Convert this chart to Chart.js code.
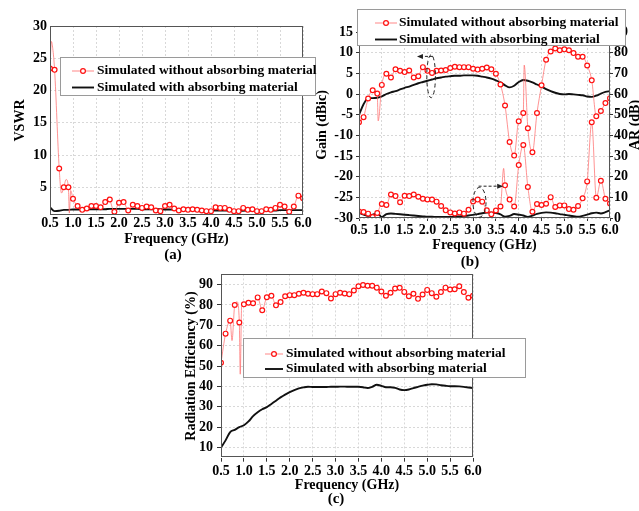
<!DOCTYPE html>
<html><head><meta charset="utf-8">
<script src="https://cdn.jsdelivr.net/npm/chart.js@4"></script>
<style>
html,body{margin:0;padding:0;background:#fff;overflow:hidden;width:639px;height:511px;}
canvas{position:absolute;}
#ca{left:0;top:0;}
#cb{left:310px;top:0;}
#cc{left:176px;top:262px;}
</style></head><body>
<canvas id="ca" width="330" height="270"></canvas>
<canvas id="cb" width="340" height="270"></canvas>
<canvas id="cc" width="360" height="249"></canvas>
<script>
// ---------------- data ----------------
const freq = [0.5,0.6,0.7,0.8,0.9,1.0,1.1,1.2,1.3,1.4,1.5,1.6,1.7,1.8,1.9,2.0,2.1,2.2,2.3,2.4,2.5,2.6,2.7,2.8,2.9,3.0,3.1,3.2,3.3,3.4,3.5,3.6,3.7,3.8,3.9,4.0,4.1,4.2,4.3,4.4,4.5,4.6,4.7,4.8,4.9,5.0,5.1,5.2,5.3,5.4,5.5,5.6,5.7,5.8,5.9,6.0];
const freqTicks = [0.5,1.0,1.5,2.0,2.5,3.0,3.5,4.0,4.5,5.0,5.5,6.0];
const vswrTicks = [5,10,15,20,25,30];
const gainTicks = [-30,-25,-20,-15,-10,-5,0,5,10,15];
const arTicks = [0,10,20,30,40,50,60,70,80,90];
const effTicks = [10,20,30,40,50,60,70,80,90];

const labelWithout = 'Simulated without absorbing material';
const labelWith = 'Simulated with absorbing material';

// (a) VSWR
const vswrWithout = [23.4,23.2,7.9,5.0,5.0,3.2,2.1,1.5,1.7,2.1,2.1,1.9,2.7,3.1,1.2,2.6,2.7,1.4,2.3,2.1,1.8,2.0,1.9,1.4,1.3,2.1,2.3,1.7,1.4,1.6,1.5,1.6,1.5,1.4,1.3,1.3,1.9,1.8,1.8,1.5,1.3,1.3,1.8,1.5,1.6,1.3,1.3,1.6,1.5,1.8,2.3,2.0,1.2,2.0,3.7,3.3];
const vswrWithoutExtraF = [0.53,0.56,0.75,0.85,0.92,0.95,1.78];
const vswrWithoutExtraV = [27.6,26.5,4.1,6.2,1.0,4.5,3.5];
const vswrWith = [1.9,1.3,1.35,1.5,1.5,1.55,1.55,1.55,1.55,1.6,1.6,1.6,1.6,1.65,1.65,1.65,1.65,1.65,1.65,1.65,1.6,1.6,1.6,1.6,1.6,1.55,1.55,1.5,1.5,1.5,1.45,1.45,1.45,1.4,1.4,1.4,1.4,1.4,1.4,1.4,1.35,1.35,1.35,1.4,1.4,1.4,1.4,1.4,1.4,1.4,1.45,1.45,1.45,1.45,1.45,1.45];

// (b) Gain (left axis) and AR (right axis)
const gainWithout = [-6.85,-5.6,-1.1,0.9,0.1,2.2,4.9,4.0,6.0,5.6,5.3,5.7,4.0,4.3,6.5,5.6,5.1,5.6,5.7,5.8,6.3,6.6,6.5,6.5,6.5,6.1,5.9,6.1,6.4,6.0,4.9,2.3,-2.8,-11.6,-14.9,-6.6,-4.6,-8.3,-14.1,-4.6,2.1,8.3,10.3,11.0,10.6,10.8,10.6,9.9,9.0,9.0,6.9,3.3,-5.4,-4.1,-2.2,-1.0];
const gainWithoutExtraF = [0.92,4.12];
const gainWithoutExtraV = [-6.5,7.0];
const gainWith = [-5.0,-2.5,-1.0,-1.0,-0.9,-0.6,0.0,0.4,0.7,1.1,1.5,1.8,2.2,2.6,2.9,3.2,3.5,3.8,4.0,4.2,4.3,4.4,4.4,4.5,4.5,4.5,4.4,4.2,4.0,3.7,3.3,2.8,2.1,1.6,2.0,2.9,3.4,3.2,2.8,2.3,1.8,1.2,0.7,0.3,0.0,-0.1,0.0,-0.1,-0.2,-0.3,-0.6,-0.7,-0.4,0.1,0.5,0.7];
const arWithout = [3.2,2.9,2.1,0.5,2.4,6.8,6.3,11.4,10.6,7.6,10.8,10.6,11.4,10.3,9.3,9.0,8.9,7.9,5.8,3.7,2.7,2.2,2.7,2.1,4.0,8.0,8.9,7.9,3.7,1.8,3.6,5.6,15.8,8.9,5.6,25.6,35.3,15.0,3.0,6.8,6.3,6.9,10.1,5.3,6.1,6.1,4.3,4.0,5.8,9.5,17.7,46.3,9.8,18.0,9.3,7.0];
const arWithoutExtraF = [3.67];
const arWithoutExtraV = [24.0];
const arWith = [2.6,1.6,1.0,1.6,2.3,0.5,1.9,2.2,2.0,1.8,1.6,1.4,1.2,1.0,0.8,0.6,0.6,0.5,0.5,0.5,0.5,0.6,0.8,1.0,1.2,1.5,1.9,2.3,2.6,2.6,2.4,1.8,0.6,1.0,1.9,1.6,1.2,0.5,1.2,2.0,2.5,2.7,2.6,2.3,1.9,1.6,1.2,0.9,0.6,1.0,1.6,2.3,2.6,2.2,2.8,3.7];

// (c) Radiation efficiency
const effWithout = [51.6,65.9,72.3,80.0,71.4,80.3,81.1,80.8,83.7,77.4,83.8,84.5,79.8,81.4,84.3,84.8,84.8,85.5,86.0,85.5,85.3,85.3,86.6,85.8,83.2,85.3,86.0,85.6,85.3,87.1,89.2,89.8,89.4,89.4,88.5,86.6,84.5,86.0,88.1,88.4,86.4,84.3,85.5,83.0,85.1,87.4,85.8,84.0,86.3,88.5,87.6,87.7,89.2,86.3,83.5,84.5];
const effWithoutExtraF = [0.74,0.85,0.92,0.95];
const effWithoutExtraV = [62.5,81.5,46.0,79.0];
const effWith = [10.0,13.5,17.6,18.7,20.0,20.9,22.8,25.4,27.3,28.8,29.8,31.4,33.0,34.6,36.0,37.2,38.2,39.0,39.5,39.8,39.7,39.7,39.7,39.7,39.8,39.8,39.9,39.9,39.8,39.8,39.8,39.6,39.2,39.8,40.8,40.3,39.6,39.6,39.3,38.5,38.2,38.5,39.2,39.8,40.4,40.8,41.1,41.0,40.6,40.3,40.1,40.1,40.0,39.8,39.5,39.2];

// ---------------- helpers ----------------
const FONT = '"Liberation Serif","Times New Roman",Times,serif';
Chart.defaults.font.family = FONT;
Chart.defaults.font.size = 14;
Chart.defaults.font.weight = 'bold';
Chart.defaults.color = '#000';
Chart.defaults.animation = false;

const RED_LINE = 'rgba(255,105,105,0.8)';
const RED_MARK = '#ff1010';
const GRID = '#cfcfcf';

function markerData(xs, ys, exX, exY) {
  const pts = xs.map((x, i) => ({x: x, y: ys[i], m: true}));
  (exX || []).forEach((x, i) => pts.push({x: x, y: exY[i], m: false}));
  pts.sort((a, b) => a.x - b.x);
  return pts;
}
function redSet(data, axis) {
  return {label: labelWithout, data: data, yAxisID: axis || 'y', borderColor: RED_LINE, borderWidth: 0.9,
    pointRadius: c => (c.raw && c.raw.m) ? 2.4 : 0, pointBorderColor: RED_MARK, pointBackgroundColor: '#fff',
    pointBorderWidth: 1.2, pointHoverRadius: 0, cubicInterpolationMode: 'monotone', order: 0};
}
function blackSet(ys, axis) {
  return {label: labelWith, data: freq.map((x, i) => ({x: x, y: ys[i]})), yAxisID: axis || 'y',
    borderColor: '#111', borderWidth: 1.9, pointRadius: 0, pointHoverRadius: 0,
    cubicInterpolationMode: 'monotone', order: 1};
}
function setTicks(list) { return s => { s.ticks = list.map(v => ({value: v})); }; }

function xScale(o) {
  return {type: 'linear', min: 0.5, max: 6.0,
    afterBuildTicks: setTicks(freqTicks),
    afterFit: s => { s.height = o.h; },
    ticks: {callback: v => v.toFixed(1), padding: o.pad, autoSkip: false, maxRotation: 0,
            font: {size: 14, weight: 'bold'}},
    grid: {color: GRID, lineWidth: 0.8, drawTicks: o.tl > 0, tickLength: o.tl, tickColor: '#333', tickWidth: 1},
    border: {display: false, dash: [2, 2]},
    title: {display: true, text: 'Frequency (GHz)', padding: 0, font: {size: 14, weight: 'bold', lineHeight: 1.15}}};
}
function yScale(o) {
  return {type: 'linear', position: o.position || 'left', min: o.min, max: o.max,
    afterBuildTicks: setTicks(o.ticks),
    afterFit: s => { s.width = o.w; },
    ticks: {padding: o.pad, font: {size: 14, weight: 'bold'}},
    grid: {color: GRID, lineWidth: 0.8, drawOnChartArea: o.gridOn !== false, drawTicks: o.tl > 0,
           tickLength: o.tl, tickColor: '#333', tickWidth: 1},
    border: {display: false, dash: [2, 2]},
    title: {display: !!o.title, text: o.title, padding: {top: o.tpad, bottom: 0},
            font: {size: 14, weight: 'bold', lineHeight: 1.15}}};
}

function drawLegend(chart, L) {
  const ctx = chart.ctx;
  const ds = chart.data.datasets;
  ctx.save();
  ctx.fillStyle = '#fff';
  ctx.fillRect(L.x, L.y, L.w, L.h);
  ctx.strokeStyle = '#9a9a9a'; ctx.lineWidth = 1;
  ctx.strokeRect(L.x + 0.5, L.y + 0.5, L.w, L.h);
  // row 1 : red line + marker
  ctx.strokeStyle = RED_LINE; ctx.lineWidth = 1;
  ctx.beginPath(); ctx.moveTo(L.s0, L.r1); ctx.lineTo(L.s1, L.r1); ctx.stroke();
  ctx.beginPath(); ctx.arc((L.s0 + L.s1) / 2, L.r1, 2.4, 0, Math.PI * 2);
  ctx.fillStyle = '#fff'; ctx.fill(); ctx.strokeStyle = RED_MARK; ctx.lineWidth = 1.2; ctx.stroke();
  // row 2 : black line
  ctx.strokeStyle = '#111'; ctx.lineWidth = 1.9;
  ctx.beginPath(); ctx.moveTo(L.s0, L.r2); ctx.lineTo(L.s1, L.r2); ctx.stroke();
  ctx.fillStyle = '#000';
  ctx.font = 'bold 13.5px ' + FONT;
  ctx.textBaseline = 'middle'; ctx.textAlign = 'left';
  ctx.fillText(ds[0].label, L.tx, L.r1);
  ctx.fillText(ds[ds.length - 1].label, L.tx, L.r2);
  ctx.restore();
}

function decoPlugin(o) {
  return {id: 'deco', afterDatasetsDraw(chart) {
    const ctx = chart.ctx, a = chart.chartArea;
    ctx.save();
    ctx.strokeStyle = '#555'; ctx.lineWidth = 1;
    ctx.strokeRect(Math.round(a.left) + 0.5, Math.round(a.top) + 0.5,
                   Math.round(a.right - a.left) - 1, Math.round(a.bottom - a.top) - 1);
    ctx.restore();
    if (o.annot) o.annot(chart);
    drawLegend(chart, o.legend);
    ctx.save();
    ctx.font = 'bold 15px ' + FONT; ctx.fillStyle = '#000';
    ctx.textAlign = 'center'; ctx.textBaseline = 'middle';
    ctx.fillText(o.caption.text, o.caption.x, o.caption.y);
    if (o.sideTitle) {
      // right-axis title, rotated like the left one (reads bottom to top)
      ctx.font = 'bold 14px ' + FONT;
      ctx.translate(o.sideTitle.x, (a.top + a.bottom) / 2);
      ctx.rotate(-Math.PI / 2);
      ctx.fillText(o.sideTitle.text, 0, 0);
    }
    ctx.restore();
  }};
}

function baseOptions(padding, scales) {
  return {responsive: false, animation: false, events: [],
    layout: {padding: padding},
    plugins: {legend: {display: false}, tooltip: {enabled: false}, title: {display: false}},
    scales: scales};
}

// ---------------- chart (a) ----------------
new Chart(document.getElementById('ca'), {
  type: 'line',
  data: {datasets: [
    redSet(markerData(freq, vswrWithout, vswrWithoutExtraF, vswrWithoutExtraV)),
    blackSet(vswrWith)
  ]},
  options: baseOptions({left: 0, top: 26, right: 27, bottom: 23}, {
    x: xScale({h: 32, pad: 0, tl: 0}),
    y: yScale({min: 0.7, max: 30, ticks: vswrTicks, w: 50, pad: 3, tl: 0, title: 'VSWR', tpad: 12})
  }),
  plugins: [decoPlugin({
    legend: {x: 60, y: 57, w: 255, h: 38, r1: 71, r2: 87.5, s0: 72, s1: 94, tx: 97},
    caption: {text: '(a)', x: 173, y: 255}
  })]
});

// ---------------- chart (b) ----------------
const annotB = {
  ellipses: [{cx: 2.08, cy: 4.3, rx: 0.095, ry: 5.2}, {cx: 3.14, cy: -26.2, rx: 0.143, ry: 3.6}],
  arrows: [{x0: 2.12, x1: 1.77, y: 9.1}, {x0: 3.12, x1: 3.66, y: -22.3}]
};
function drawAnnotB(chart) {
  const ctx = chart.ctx, xs = chart.scales.x, ys = chart.scales.y;
  ctx.save();
  ctx.strokeStyle = '#222'; ctx.fillStyle = '#222'; ctx.lineWidth = 1;
  annotB.ellipses.forEach(e => {
    const px = xs.getPixelForValue(e.cx), py = ys.getPixelForValue(e.cy);
    const rx = Math.abs(xs.getPixelForValue(e.cx + e.rx) - px);
    const ry = Math.abs(ys.getPixelForValue(e.cy + e.ry) - py);
    ctx.setLineDash([4, 3]);
    ctx.beginPath(); ctx.ellipse(px, py, rx, ry, 0, 0, Math.PI * 2); ctx.stroke();
  });
  annotB.arrows.forEach(r => {
    const p0 = xs.getPixelForValue(r.x0), p1 = xs.getPixelForValue(r.x1), py = ys.getPixelForValue(r.y);
    const dir = p1 > p0 ? 1 : -1;
    ctx.setLineDash([3, 2]);
    ctx.beginPath(); ctx.moveTo(p0, py); ctx.lineTo(p1 - dir * 4, py); ctx.stroke();
    ctx.setLineDash([]);
    ctx.beginPath(); ctx.moveTo(p1, py); ctx.lineTo(p1 - dir * 6, py - 2.5); ctx.lineTo(p1 - dir * 6, py + 2.5);
    ctx.closePath(); ctx.fill();
  });
  ctx.restore();
}
new Chart(document.getElementById('cb'), {
  type: 'line',
  data: {datasets: [
    redSet(markerData(freq, gainWithout, gainWithoutExtraF, gainWithoutExtraV), 'y'),
    redSet(markerData(freq, arWithout, arWithoutExtraF, arWithoutExtraV), 'y2'),
    blackSet(gainWith, 'y'),
    blackSet(arWith, 'y2')
  ]},
  options: baseOptions({left: 0, top: 32, right: 0, bottom: 17}, {
    x: xScale({h: 35, pad: 1, tl: 3}),
    y: yScale({min: -30, max: 15, ticks: gainTicks, w: 49, pad: 3, tl: 3, title: 'Gain (dBic)', tpad: 4}),
    y2: yScale({position: 'right', min: 0, max: 90, ticks: arTicks, w: 40, pad: 1, tl: 3, gridOn: false})
  }),
  plugins: [decoPlugin({
    annot: drawAnnotB,
    legend: {x: 47, y: 9, w: 268, h: 36, r1: 23, r2: 39.5, s0: 65, s1: 87, tx: 89},
    caption: {text: '(b)', x: 160, y: 262},
    sideTitle: {text: 'AR (dB)', x: 325}
  })]
});

// ---------------- chart (c) ----------------
new Chart(document.getElementById('cc'), {
  type: 'line',
  data: {datasets: [
    redSet(markerData(freq, effWithout, effWithoutExtraF, effWithoutExtraV)),
    blackSet(effWith)
  ]},
  options: baseOptions({left: 0, top: 10.7, right: 63, bottom: 18}, {
    x: xScale({h: 35.3, pad: 1, tl: 4}),
    y: yScale({min: 5, max: 95, ticks: effTicks, w: 45, pad: 4, tl: 4, title: 'Radiation Efficiency (%)', tpad: 7})
  }),
  plugins: [decoPlugin({
    legend: {x: 67, y: 76, w: 282, h: 39, r1: 92, r2: 107, s0: 89, s1: 107, tx: 110},
    caption: {text: '(c)', x: 160, y: 237}
  })]
});
</script>
</body></html>
